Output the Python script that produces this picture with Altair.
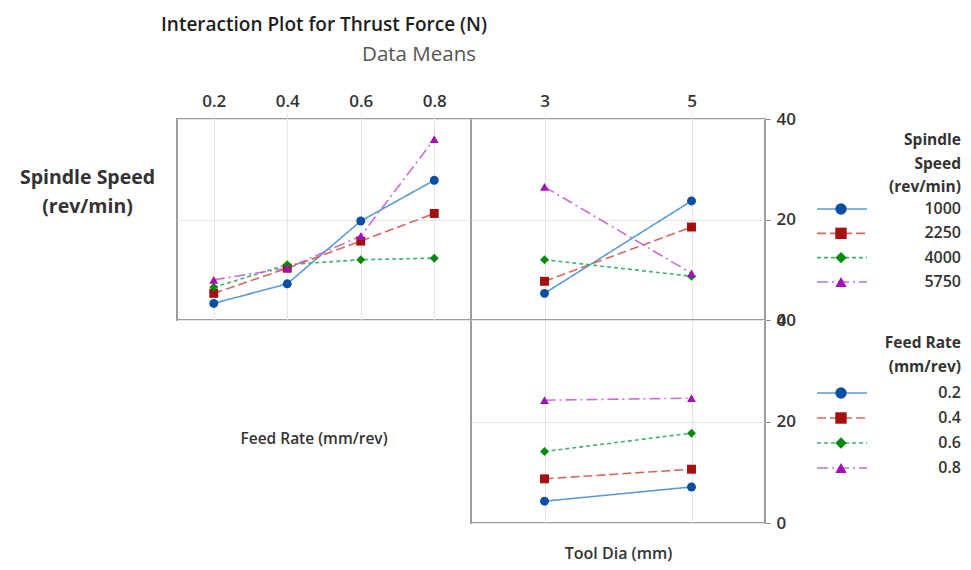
import altair as alt
import pandas as pd

FONT = "Open Sans"
INK = "#333333"
GRID = "#e4e4e4"
FRAME = "#9c9c9c"

# Factor levels
spindle_speeds = ["1000", "2250", "4000", "5750"]
feed_rates = ["0.2", "0.4", "0.6", "0.8"]
feed_x = [0.2, 0.4, 0.6, 0.8]
tool_dias = [3, 5]

# Mean thrust force (N) versus feed rate, one list per spindle speed
feed_1000 = [3.3, 7.2, 19.7, 27.8]
feed_2250 = [5.3, 10.3, 15.7, 21.2]
feed_4000 = [6.5, 11.0, 12.0, 12.3]
feed_5750 = [8.0, 10.3, 16.7, 36.0]

# Mean thrust force (N) versus tool diameter, one list per spindle speed
dia_1000 = [5.3, 23.7]
dia_2250 = [7.7, 18.5]
dia_4000 = [12.0, 8.7]
dia_5750 = [26.5, 9.3]

# Mean thrust force (N) versus tool diameter, one list per feed rate
dia_f02 = [4.3, 7.1]
dia_f04 = [8.7, 10.6]
dia_f06 = [14.1, 17.7]
dia_f08 = [24.2, 24.6]

# Series styling, in level order
keys = [0, 1, 2, 3]
line_colors = ["#5b9bd5", "#d9675f", "#3cb371", "#c86dd7"]
marker_colors = ["#0b4ea2", "#a50f0f", "#0a8a0a", "#a310b5"]
dash_patterns = [[1, 0], [9, 4], [4, 3], [11, 4, 2, 4]]
marker_shapes = ["circle", "square", "diamond", "triangle-up"]


def long_frame(xs, series, xname):
    rows = []
    for k, ys in enumerate(series):
        for x, y in zip(xs, ys):
            rows.append({xname: x, "thrust": y, "k": k})
    return pd.DataFrame(rows)


feed_df = long_frame(feed_x, [feed_1000, feed_2250, feed_4000, feed_5750], "feed")
dia_spindle_df = long_frame(tool_dias, [dia_1000, dia_2250, dia_4000, dia_5750], "dia")
dia_feed_df = long_frame(tool_dias, [dia_f02, dia_f04, dia_f06, dia_f08], "dia")

line_color = alt.Color("k:N", scale=alt.Scale(domain=keys, range=line_colors), legend=None)
line_dash = alt.StrokeDash("k:N", scale=alt.Scale(domain=keys, range=dash_patterns), legend=None)
marker_fill = alt.Fill("k:N", scale=alt.Scale(domain=keys, range=marker_colors), legend=None)
marker_shape = alt.Shape("k:N", scale=alt.Scale(domain=keys, range=marker_shapes), legend=None)

framed = alt.ViewBackground(stroke=FRAME, strokeWidth=2)
bare = alt.ViewBackground(strokeOpacity=0)

label_style = dict(labelFont=FONT, labelFontSize=17, labelFontWeight=600, labelColor=INK)
grid_style = dict(grid=True, gridColor=GRID, gridWidth=1, domain=False)


def interaction(df, xname, xdom, xaxis, yaxis, h, extra=()):
    x = alt.X(f"{xname}:Q", scale=alt.Scale(domain=xdom, nice=False, zero=False), axis=xaxis)
    y = alt.Y("thrust:Q", scale=alt.Scale(domain=[0, 40], nice=False), axis=yaxis)
    base = alt.Chart(df)
    lines = base.mark_line(strokeWidth=1.6, strokeCap="butt").encode(
        x=x, y=y, color=line_color, strokeDash=line_dash
    )
    marks = base.mark_point(filled=True, opacity=1, size=80).encode(
        x=x, y=y, fill=marker_fill, shape=marker_shape
    )
    return alt.layer(lines, marks, *extra).properties(width=294, height=h, view=framed)


top_axis_feed = alt.Axis(
    orient="top", values=feed_x, format=".1f", title=None, ticks=True, tickColor=GRID,
    tickSize=6, labelPadding=3, **label_style, **grid_style
)
top_axis_dia = alt.Axis(
    orient="top", values=tool_dias, format="d", title=None, ticks=True, tickColor=GRID,
    tickSize=6, labelPadding=3, **label_style, **grid_style
)
right_axis = alt.Axis(
    orient="right", values=[0, 20, 40], title=None, ticks=True, tickColor="#8a8a8a",
    tickSize=5, labelPadding=6, **label_style, **grid_style
)
row_axis = alt.Axis(
    orient="left", values=[0, 20, 40], labels=False, ticks=False,
    title=["Spindle Speed", "(rev/min)"], titleAngle=0, titleAlign="center",
    titleBaseline="middle", titleX=-90, titleY=58, titleLineHeight=29,
    titleFont=FONT, titleFontSize=19.5, titleFontWeight="bold", titleColor=INK,
    **grid_style
)
bottom_axis_dia = alt.Axis(
    orient="bottom", values=tool_dias, labels=False, ticks=False, title="Tool Dia (mm)",
    titleFont=FONT, titleFontSize=16, titleFontWeight=600, titleColor=INK, titlePadding=22,
    **grid_style
)

heading = alt.Chart(pd.DataFrame({"t": ["Interaction Plot for Thrust Force (N)"]})).mark_text(
    font=FONT, fontSize=19, fontWeight=600, color="#1e1e1e", baseline="middle"
).encode(x=alt.value(147), y=alt.value(-94), text="t:N")
subheading = alt.Chart(pd.DataFrame({"t": ["Data Means"]})).mark_text(
    font=FONT, fontSize=20.5, color="#555555", baseline="middle"
).encode(x=alt.value(242), y=alt.value(-64), text="t:N")

top_left = interaction(feed_df, "feed", [0.1, 0.9], top_axis_feed, row_axis, 201,
                       extra=(heading, subheading))
top_right = interaction(dia_spindle_df, "dia", [2, 6], top_axis_dia, right_axis, 201)
bottom_right = interaction(dia_feed_df, "dia", [2, 6], bottom_axis_dia, right_axis, 203)

bottom_left = alt.Chart(pd.DataFrame({"t": ["Feed Rate (mm/rev)"]})).mark_text(
    font=FONT, fontSize=15.5, fontWeight=600, color=INK, baseline="middle"
).encode(x=alt.value(137), y=alt.value(119), text="t:N").properties(
    width=294, height=203, view=bare
)


def legend_panel(labels, title_lines, title_y, first_y, last_y, h):
    """Key panel: one row per level, rows spaced evenly from first_y to last_y (px)."""
    df = pd.DataFrame({"k": keys, "label": labels})
    step = (last_y - first_y) / (len(labels) - 1)
    row_scale = alt.Scale(domain=[-first_y / step, (h - first_y) / step],
                          reverse=True, nice=False, zero=False)
    y = alt.Y("k:Q", scale=row_scale, axis=None)
    base = alt.Chart(df)
    seg = base.mark_rule(strokeWidth=1.6, strokeCap="butt").encode(
        x=alt.value(52), x2=alt.value(102), y=y, color=line_color, strokeDash=line_dash
    )
    sym = base.mark_point(filled=True, opacity=1, size=130).encode(
        x=alt.value(76), y=y, fill=marker_fill, shape=marker_shape
    )
    txt = base.mark_text(
        align="right", baseline="middle", font=FONT, fontSize=16, fontWeight=600, color=INK
    ).encode(x=alt.value(196), y=y, text="label:N")
    head = alt.Chart(pd.DataFrame({"t": ["\n".join(title_lines)]})).mark_text(
        align="right", baseline="middle", lineBreak="\n", lineHeight=23.5,
        font=FONT, fontSize=15.5, fontWeight="bold", color=INK
    ).encode(x=alt.value(196), y=alt.value(title_y), text="t:N")
    return alt.layer(seg, sym, txt, head).properties(width=200, height=h, view=bare)


legend_top = legend_panel(spindle_speeds, ["Spindle", "Speed", "(rev/min)"], 21, 90, 163, 201)
legend_bottom = legend_panel(feed_rates, ["Feed Rate", "(mm/rev)"], 23, 73, 148, 203)

chart = alt.concat(
    top_left, top_right, legend_top,
    bottom_left, bottom_right, legend_bottom,
    columns=3, spacing=0, bounds="flush", align="each",
).properties(
    padding={"left": 18, "top": 15, "right": 5, "bottom": 5}
).configure(font=FONT, background="white")

chart.save("out.html", embed_options={"renderer": "svg", "actions": False})
